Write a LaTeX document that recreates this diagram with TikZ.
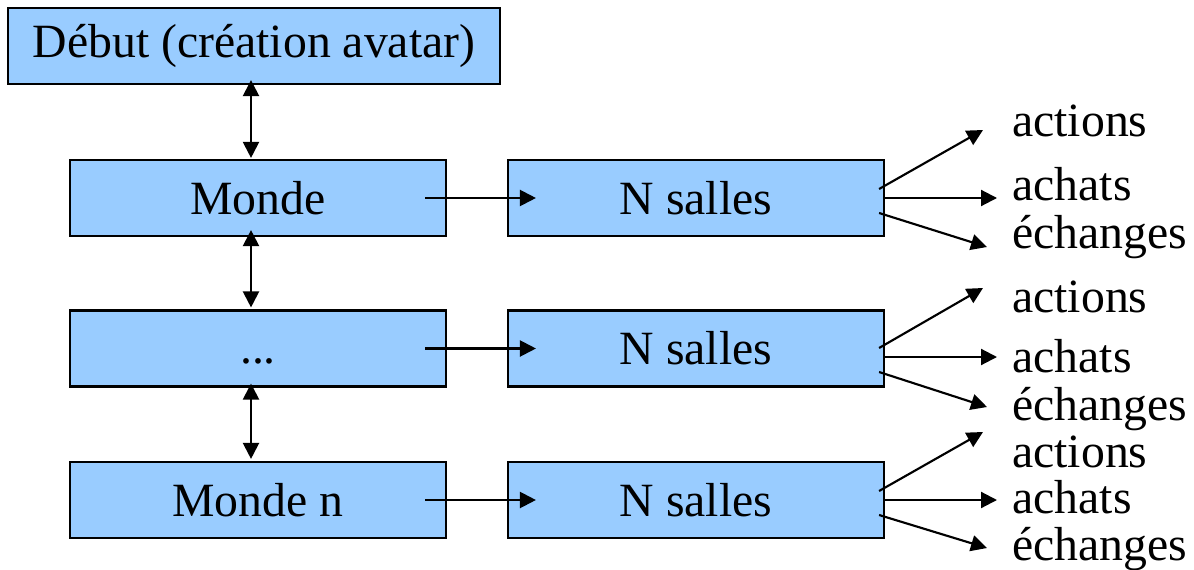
\documentclass[tikz,border=0pt]{standalone}
\usepackage{fontspec}
\setmainfont{Liberation Serif}
\usetikzlibrary{arrows.meta,calc}
\definecolor{boxblue}{HTML}{99CCFF}
\begin{document}
\begin{tikzpicture}[x=0.75pt,y=-0.75pt,
  every node/.style={font=\fontsize{35.8pt}{40pt}\selectfont, inner sep=0pt},
  box/.style={draw=black, line width=1.6pt, fill=boxblue,
              minimum width=282pt, minimum height=57pt},
  link/.style={line width=1.6pt, -{Triangle[length=12pt,width=12pt]}},
  both/.style={line width=1.6pt, {Triangle[length=12pt,width=12pt]}-{Triangle[length=12pt,width=12pt]}},
  lbl/.style={anchor=base west}]
  \useasboundingbox (0,0) rectangle (1194,570);

  % left column
  \node[box, minimum width=369pt] (debut) at (254,46) {Début (création avatar)};
  \node[box] (m1) at (258,198)   {Monde};
  \node[box] (m2) at (258,348.5) {\vphantom{M}...};
  \node[box] (m3) at (258,500)   {Monde n};

  % right column
  \node[box] (s1) at (696,198)   {N salles};
  \node[box] (s2) at (696,348.5) {N salles};
  \node[box] (s3) at (696,500)   {N salles};

  % vertical links
  \draw[both] ($(debut.south)+(-3,-5)$) -- ($(m1.north)+(-7,-1)$);
  \draw[both] ($(m1.south)+(-7,-7)$) -- ($(m2.north)+(-7,-2)$);
  \draw[both] ($(m2.south)+(-7,-4)$) -- ($(m3.north)+(-7,-2)$);

  % worlds to rooms
  \draw[link] ($(m1.east)+(-22,0)$) -- ($(s1.west)+(29,0)$);
  \draw[link] ($(m2.east)+(-22,0)$) -- ($(s2.west)+(29,0)$);
  \draw[link] ($(m3.east)+(-22,0)$) -- ($(s3.west)+(29,0)$);

  % labels
  \node[lbl] (ac1) at (1012,137) {actions};
  \node[lbl] (ah1) at (1012,200) {achats};
  \node[lbl] (ec1) at (1012,248) {échanges};
  \node[lbl] (ac2) at (1012,312) {actions};
  \node[lbl] (ah2) at (1012,372) {achats};
  \node[lbl] (ec2) at (1012,420) {échanges};
  \node[lbl] (ac3) at (1012,467) {actions};
  \node[lbl] (ah3) at (1012,513) {achats};
  \node[lbl] (ec3) at (1012,560) {échanges};

  % arrow ends near the labels
  \coordinate (tac1) at (983,130);
  \coordinate (tah1) at (997,198);
  \coordinate (tec1) at (987,247);
  \coordinate (tac2) at (983,288);
  \coordinate (tah2) at (997,357);
  \coordinate (tec2) at (987,407);
  \coordinate (tac3) at (983,432);
  \coordinate (tah3) at (997,500);
  \coordinate (tec3) at (987,548);

  % rooms to activities
  \draw[link] ($(s1.east)+(-6,-9)$) -- (tac1);
  \draw[link] (s1.east) -- (tah1);
  \draw[link] ($(s1.east)+(-6,15)$) -- (tec1);

  \draw[link] ($(s2.east)+(-6,-0.5)$) -- (tac2);
  \draw[link] ($(s2.east)+(0,8.5)$) -- (tah2);
  \draw[link] ($(s2.east)+(-6,23.5)$) -- (tec2);

  \draw[link] ($(s3.east)+(-6,-9)$) -- (tac3);
  \draw[link] (s3.east) -- (tah3);
  \draw[link] ($(s3.east)+(-6,15)$) -- (tec3);
\end{tikzpicture}
\end{document}
